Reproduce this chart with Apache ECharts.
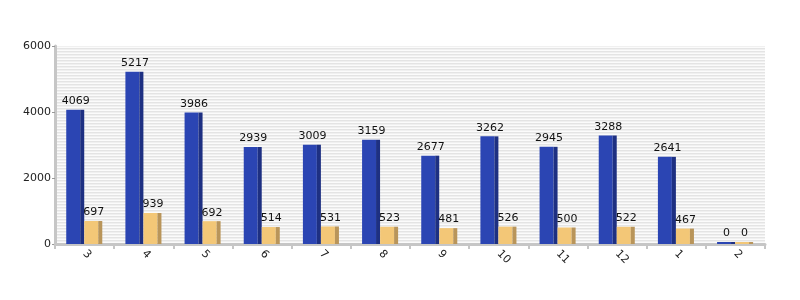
<!DOCTYPE html>
<html><head><meta charset="utf-8">
<script src="https://cdn.jsdelivr.net/npm/echarts@6/dist/echarts.min.js"></script>
<style>html,body{margin:0;padding:0;background:#fff}#c{width:800px;height:300px}</style>
</head><body><div id="c"></div>
<script>
const categories = ['3','4','5','6','7','8','9','10','11','12','1','2'];
const seriesA = [4069,5217,3986,2939,3009,3159,2677,3262,2945,3288,2641,0];
const seriesB = [697,939,692,514,531,523,481,526,500,522,467,0];
const yTicks = [0,2000,4000,6000];

const pc = document.createElement('canvas');
pc.width = 4; pc.height = 3;
const g = pc.getContext('2d');
g.fillStyle = '#e4e4e4'; g.fillRect(0,0,4,1);
g.fillStyle = '#f0f0f0'; g.fillRect(0,1,4,1);
g.fillStyle = '#fbfbfb'; g.fillRect(0,2,4,1);

function makeRender(offsetFrac, front, side) {
  return function(params, api) {
    const top = api.coord([api.value(0), api.value(1)]);
    const base = api.coord([api.value(0), 0]);
    const bw = api.size([1, 0])[0];
    const fw = bw * 0.236, sw = bw * 0.068;
    const x0 = top[0] + bw * offsetFrac;
    let h = base[1] - top[1];
    let y = top[1];
    if (h < 2) { h = 2; y = base[1] - 2; }
    return {
      type: 'group',
      children: [
        {type: 'rect', shape: {x: x0, y: y, width: fw, height: h}, style: {fill: front}},
        {type: 'rect', shape: {x: x0 + fw, y: y, width: sw, height: h}, style: {fill: side}},
        {type: 'text', x: x0 + (fw + sw) / 2 + 0.5, y: y - 3,
         style: {text: String(api.value(1)), fill: '#111', font: '11px "DejaVu Sans"', align: 'center', verticalAlign: 'bottom'}}
      ]
    };
  };
}

const chart = echarts.init(document.getElementById('c'));
chart.setOption({
  animation: false,
  grid: {left: 55, right: 35, top: 46, bottom: 56, show: true, borderWidth: 0,
         backgroundColor: {image: pc, repeat: 'repeat'}},
  xAxis: {
    type: 'category', data: categories,
    axisLine: {lineStyle: {color: '#c6c6c6', width: 3}},
    axisTick: {show: true, lineStyle: {color: '#c6c6c6', width: 2}, length: 5},
    axisLabel: {rotate: -45, color: '#222', fontSize: 11, fontFamily: 'DejaVu Sans', margin: 8}
  },
  yAxis: {
    type: 'value', min: yTicks[0], max: yTicks[yTicks.length-1], interval: 2000,
    axisLine: {show: true, lineStyle: {color: '#c6c6c6', width: 3}},
    axisTick: {show: true, lineStyle: {color: '#999'}, length: 3},
    splitLine: {show: false},
    axisLabel: {color: '#222', fontSize: 11, fontFamily: 'DejaVu Sans', margin: 4,
                formatter: v => String(v)}
  },
  series: [
    {type: 'custom', data: seriesA.map((v,i)=>[i,v]), encode: {x: 0, y: 1}, clip: false,
     renderItem: makeRender(-0.31, '#2b45b3', '#1e3082')},
    {type: 'custom', data: seriesB.map((v,i)=>[i,v]), encode: {x: 0, y: 1}, clip: false,
     renderItem: makeRender(-0.005, '#f3c777', '#b9955a')}
  ]
});
</script></body></html>
